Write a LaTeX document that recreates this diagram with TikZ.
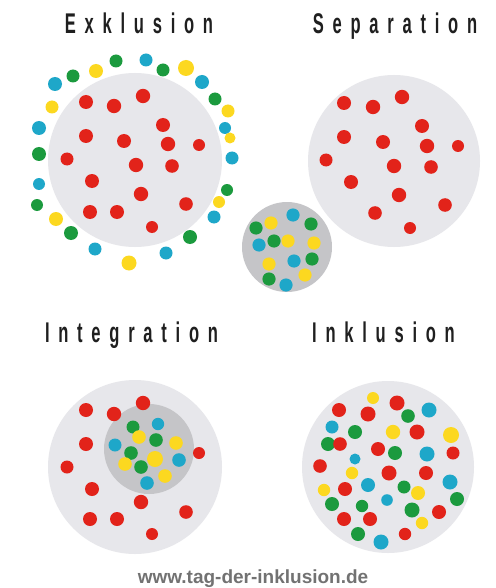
\documentclass[tikz,border=0pt]{standalone}
\usepackage{fontspec}
\setmainfont{Liberation Sans}
\usepackage{graphicx}
\definecolor{cr}{HTML}{E2231A}
\definecolor{cg}{HTML}{1B9A3E}
\definecolor{cb}{HTML}{1EA7C9}
\definecolor{cy}{HTML}{FCD820}
\definecolor{lightc}{HTML}{E7E7EB}
\definecolor{darkc}{HTML}{C5C5C8}
\definecolor{foot}{HTML}{727272}
\def\ttlloop#1{\ifx#1\relax\else#1\hskip 15.1pt\expandafter\ttlloop\fi}
\newcommand\ttl[1]{\scalebox{0.58}[1]{\fontsize{28.5}{28}\bfseries\selectfont\ttlloop#1\relax\unskip}}
\tikzset{title/.style={anchor=base,inner sep=0pt,text=black!88}}
\begin{document}
\begin{tikzpicture}[x=1pt,y=-1pt]
\useasboundingbox (0,0) rectangle (495,588);
\fill[white] (0,0) rectangle (495,588);
% titles
\node[title] (t1) at (139,34) {\ttl{Exklusion}};
\node[title] (t2) at (395,34) {\ttl{Separation}};
\node[title] (t3) at (131.5,342) {\ttl{Integration}};
\node[title] (t4) at (383.5,342) {\ttl{Inklusion}};
% big circles
\fill[lightc] (135,160) circle (87pt);
\fill[lightc] (394,161) circle (86pt);
\fill[lightc] (135,467) circle (87pt);
\fill[lightc] (388,467) circle (86pt);
% dark circles
\fill[darkc] (287,247) circle (45pt);
\fill[darkc] (149,449) circle (45pt);
% Exklusion red
\foreach \x/\y/\r in {86/102/7,114/106/7.2,143/96/7.2,163/125/7,86/136/7,124/141/7,168/144/7.2,199/145/6,67/159/6.5,136/165/7.2,172/166/6.8,92/181/7,141/194/7.2,90/212/7,117/212/7,186/204/6.8,152/227/6}
  \fill[cr] (\x,\y) circle (\r pt);
% Exklusion outer
\foreach \x/\y/\r/\c in {116/61/6.5/cg,146/60/6.5/cb,163/70/6.5/cg,186/68/8/cy,96/71/7/cy,73/76/6.5/cg,55/84/7/cb,202/82/7/cb,215/99/6.5/cg,228/111/6.5/cy,52/107/6.5/cy,225/128/6/cb,39/128/7/cb,232/158/6.5/cb,39/154/7/cg,39/184/6/cb,227/190/6/cg,37/205/6/cg,56/219/7/cy,214/217/6.5/cb,71/233/7/cg,190/237/7/cg,95/249/6.5/cb,166/253/6.5/cb,129/263/7.5/cy,230/138/5.5/cy,219/202/6/cy}
  \fill[\c] (\x,\y) circle (\r pt);
% Separation red
\foreach \x/\y/\r in {344/103/7,373/107/7.2,402/97/7.2,422/126/7,344/137/7,383/142/7,427/146/7.2,458/146/6,326/160/6.5,394/166/7.2,431/167/6.8,351/182/7,399/195/7.2,375/213/6.8,445/205/6.8,410/228/6}
  \fill[cr] (\x,\y) circle (\r pt);
% Separation small circle dots
\foreach \x/\y/\c in {293/215/cb,271/223/cy,256/228/cg,311/224/cg,259/245/cb,274/241/cg,288/241/cy,314/243/cy,269/264/cy,294/261/cb,312/259/cg,269/279/cg,286/285/cb,305/275/cy}
  \fill[\c] (\x,\y) circle (6.6pt);
% Integration red
\foreach \x/\y/\r in {86/410/7,114/414/7.2,143/403/7.2,86/444/7,199/453/6,67/467/6.5,92/489/7,141/502/7.2,90/519/7,117/519/7,186/512/6.8,152/534/6}
  \fill[cr] (\x,\y) circle (\r pt);
% Integration inner
\foreach \x/\y/\r/\c in {133/427/6.5/cg,158/424/6.2/cb,139/437/6.8/cy,156/440/6.8/cg,176/443/6.8/cy,115/445/6.5/cb,131/453/6.8/cg,155/459/8/cy,179/460/6.8/cb,125/464/6.8/cy,141/467/6.8/cg,165/476/6.8/cy,147/483/6.8/cb}
  \fill[\c] (\x,\y) circle (\r pt);
% Inklusion
\foreach \x/\y/\r/\c in {373/398/6/cy,397/403/7.5/cr,339/410/7/cr,368/414/7.5/cr,429/410/7.5/cb,408/416/6.8/cg,332/427/6.5/cb,355/432/7/cg,393/432/7.2/cy,417/432/7.5/cr,451/435/8/cy,328/444/7/cg,340/444/6.8/cr,378/449/7/cr,395/453/7/cg,427/454/7.5/cb,453/453/6.5/cr,320/466/6.8/cr,355/459/5.5/cb,389/473/7.5/cr,426/473/7/cr,352/473/6.2/cy,450/482/7.5/cb,324/490/6.2/cy,345/489/7/cr,368/485/7/cb,404/487/6.5/cg,418/493/7/cy,387/500/5.8/cb,457/499/7/cg,332/504/7/cg,362/506/6.2/cg,412/510/7.5/cg,439/512/7/cr,344/519/7/cr,370/519/7/cr,422/523/6.2/cy,358/534/7/cg,405/534/6.2/cr,381/542/7.5/cb}
  \fill[\c] (\x,\y) circle (\r pt);
% footer
\node[anchor=base,inner sep=0pt,text=foot,font=\bfseries\fontsize{19}{20}\selectfont] (foot) at (253,583.5) {www.tag-der-inklusion.de};
\end{tikzpicture}
\end{document}
